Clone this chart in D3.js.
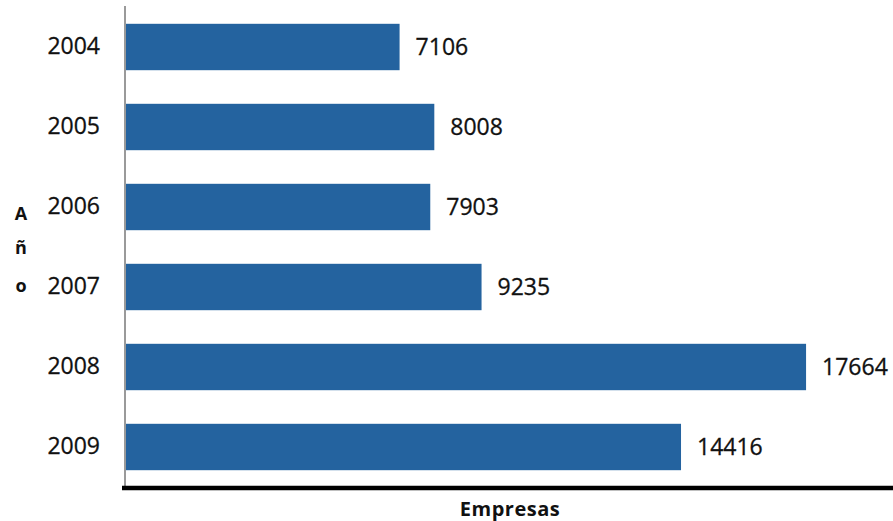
<!DOCTYPE html>
<html>
<head>
<meta charset="utf-8">
<script src="https://cdn.jsdelivr.net/npm/d3@7"></script>
<style>
  body { margin: 0; background: #fff; }
  text { font-family: "Open Sans", sans-serif; fill: #111; }
</style>
</head>
<body>
<div id="chart"></div>
<script>
var years = ['2004', '2005', '2006', '2007', '2008', '2009'];
var empresas = [7106, 8008, 7903, 9235, 17664, 14416];
var yLabelLetters = ['A', 'ñ', 'o'];

var svgWidth = 893;
var svgHeight = 521;

var svg = d3.select('#chart')
    .append('svg')
    .attr('width', svgWidth)
    .attr('height', svgHeight);

//Scales
var xScale = d3.scaleLinear()
    .domain([0, 20000])
    .range([126, 896]);

var yScale = d3.scaleBand()
    .domain(years)
    .range([7, 487])
    .paddingInner(0.42)
    .paddingOuter(0.21);

var data = years.map((y, i) => ({ year: y, value: empresas[i] }));

//Bars
svg.selectAll('.bar')
    .data(data)
    .enter()
    .append('rect')
    .attr('class', 'bar')
    .attr('x', xScale(0))
    .attr('y', d => yScale(d.year))
    .attr('width', d => xScale(d.value) - xScale(0))
    .attr('height', yScale.bandwidth())
    .attr('fill', '#24639f');

//Value labels
svg.selectAll('.val')
    .data(data)
    .enter()
    .append('text')
    .attr('class', 'val')
    .attr('x', d => xScale(d.value) + 16)
    .attr('y', d => yScale(d.year) + yScale.bandwidth() / 2)
    .attr('dy', '0.36em')
    .style('font-size', '23px')
    .style('stroke', '#111')
    .style('stroke-width', 0.3)
    .text(d => d.value);

//Y axis (year labels)
var yAxis = d3.axisLeft(yScale).tickSize(0).tickPadding(26);
var yAxisG = svg.append('g')
    .attr('transform', `translate(${xScale(0)}, 0)`)
    .call(yAxis);
yAxisG.select('.domain').remove();
yAxisG.selectAll('text')
    .style('font-size', '23px')
    .style('font-family', '"Open Sans", sans-serif')
    .style('stroke', '#111')
    .style('stroke-width', 0.3)
    .attr('fill', '#111');

svg.append('line')
    .attr('x1', 125).attr('x2', 125)
    .attr('y1', 6).attr('y2', 487)
    .attr('stroke', '#9a9a9a')
    .attr('stroke-width', 2);

//Bottom axis line
svg.append('line')
    .attr('x1', 122).attr('x2', 893)
    .attr('y1', 488).attr('y2', 488)
    .attr('stroke', '#000')
    .attr('stroke-width', 4.5);

//Axis titles
svg.append('text')
    .attr('x', 510)
    .attr('y', 516)
    .attr('text-anchor', 'middle')
    .style('font-size', '20px')
    .style('font-weight', 'bold')
    .style('letter-spacing', '0.5px')
    .text('Empresas');

svg.selectAll('.ylet')
    .data(yLabelLetters)
    .enter()
    .append('text')
    .attr('class', 'ylet')
    .attr('x', 21)
    .attr('y', (d, i) => [220, 254, 292][i])
    .attr('text-anchor', 'middle')
    .style('font-size', '18px')
    .style('font-weight', 'bold')
    .text(d => d);
</script>
</body>
</html>
